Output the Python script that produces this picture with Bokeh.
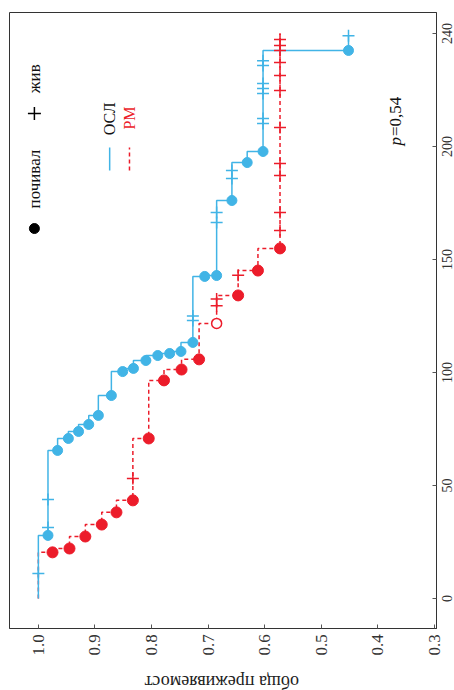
import math
from bokeh.plotting import figure
from bokeh.layouts import column, row
from bokeh.models import Range1d, FixedTicker
from bokeh.core.properties import value
from bokeh.embed import file_html
from bokeh.resources import INLINE

# ---------------- data ----------------
# ОСЛ (blue, solid): event times / survival after event
blue_event_t = [27.9, 65.5, 70.8, 73.9, 77.0, 81.0, 89.8, 100.4, 101.8, 105.3, 107.5,
                108.4, 109.3, 113.3, 142.5, 142.9, 176.1, 192.9, 197.8, 242.5]
blue_event_s = [0.983, 0.966, 0.947, 0.929, 0.911, 0.894, 0.871, 0.851, 0.832, 0.810, 0.789,
                0.768, 0.748, 0.727, 0.706, 0.685, 0.658, 0.631, 0.603, 0.452]
blue_cens_t = [11.0, 31.4, 43.8, 123.0, 125.0, 166.4, 170.8, 185.8, 189.4,
               210.2, 212.4, 223.5, 225.7, 227.9, 235.8, 238.0, 249.0]
blue_cens_s = [1.0, 0.983, 0.983, 0.727, 0.727, 0.685, 0.685, 0.658, 0.658,
               0.603, 0.603, 0.603, 0.603, 0.603, 0.603, 0.603, 0.452]
blue_end_t = 249.0

# РМ (red, dashed)
red_event_t = [20.4, 22.1, 27.4, 32.7, 38.1, 43.4, 70.8, 96.5, 101.3, 105.8,
               121.7, 134.1, 145.1, 154.9]
red_event_s = [0.975, 0.945, 0.917, 0.888, 0.862, 0.833, 0.805, 0.778, 0.747, 0.716,
               0.685, 0.647, 0.612, 0.573]
red_event_open = [False] * 10 + [True] + [False] * 3
red_cens_t = [53.1, 129.5, 132.5, 143.0, 162.8, 170.8, 187.2, 192.5, 208.4,
              224.8, 231.4, 237.2, 242.5, 244.7, 247.3]
red_cens_s = [0.833, 0.685, 0.685, 0.647, 0.573, 0.573, 0.573, 0.573, 0.573,
              0.573, 0.573, 0.573, 0.573, 0.573, 0.573]
red_end_t = 250.0

surv_ticks = [1.0, 0.9, 0.8, 0.7, 0.6, 0.5, 0.4, 0.3]
surv_labels = ["1.0", "0.9", "0.8", "0.7", "0.6", "0.5", "0.4", "0.3"]
time_ticks = [0, 50, 100, 150, 200, 250]
time_labels = ["0", "50", "100", "150", "200", "240"]

series_names = ["ОСЛ", "РМ"]
marker_names = ["почивал", "жив"]
y_title = "обща преживяемост"
p_text = "=0,54"

BLUE = "#41b4e6"
RED = "#ec1c2a"
FONT = "Liberation Serif"
ANG = math.pi / 2


def step_path(ev_t, ev_s, end_t):
    xs, ys = [1.0], [0.0]
    s = 1.0
    for t, sn in zip(ev_t, ev_s):
        xs += [s, sn]
        ys += [t, t]
        s = sn
    xs.append(s)
    ys.append(end_t)
    return xs, ys


surv_range = Range1d(1.051, 0.2965)
time_range = Range1d(-13.3, 259.3)

# ---------------- main panel ----------------
p = figure(width=438, height=630, x_range=surv_range, y_range=time_range,
           y_axis_location="right", output_backend="svg", toolbar_location=None,
           min_border_left=9, min_border_right=2, min_border_top=12, min_border_bottom=2)
p.grid.visible = False
p.outline_line_color = "#333333"
p.outline_line_width = 1
p.background_fill_color = "white"
p.border_fill_color = "white"

# bottom axis: inward ticks only (its labels sit in the strip below)
xa = p.xaxis[0]
xa.ticker = FixedTicker(ticks=surv_ticks)
xa.major_label_overrides = {t: "" for t in surv_ticks}
xa.major_label_orientation = math.pi / 2
xa.major_label_standoff = 0
xa.major_label_text_font_size = "1px"
xa.major_tick_in = 4
xa.major_tick_out = 0
xa.minor_tick_line_color = None
xa.axis_line_color = "#333333"
xa.major_tick_line_color = "#555555"

# right axis: inward ticks only (labels centred in the strip to the right)
ya = p.yaxis[0]
ya.ticker = FixedTicker(ticks=time_ticks)
ya.major_label_overrides = {t: "" for t in time_ticks}
ya.major_label_standoff = 0
ya.major_label_text_font_size = "1px"
ya.major_tick_in = 4
ya.major_tick_out = 0
ya.minor_tick_line_color = None
ya.axis_line_color = "#333333"
ya.major_tick_line_color = "#555555"

# curves
bx, by = step_path(blue_event_t, blue_event_s, blue_end_t)
rx, ry = step_path(red_event_t, red_event_s, red_end_t)
p.line(rx, ry, line_color=RED, line_width=1.5, line_dash="4 3")
p.line(bx, by, line_color=BLUE, line_width=1.5)

# censored (жив)
p.scatter(blue_cens_s, blue_cens_t, marker="cross", size=12, line_color=BLUE, line_width=1.5)
p.scatter(red_cens_s, red_cens_t, marker="cross", size=12, line_color=RED, line_width=1.5)

# events (почивал)
p.scatter(blue_event_s, blue_event_t, marker="circle", size=10, fill_color=BLUE, line_color=BLUE)
rs_f = [s for s, o in zip(red_event_s, red_event_open) if not o]
rt_f = [t for t, o in zip(red_event_t, red_event_open) if not o]
rs_o = [s for s, o in zip(red_event_s, red_event_open) if o]
rt_o = [t for t, o in zip(red_event_t, red_event_open) if o]
p.scatter(rs_f, rt_f, marker="circle", size=11, fill_color=RED, line_color=RED)
p.scatter(rs_o, rt_o, marker="circle", size=10, fill_color="white", line_color=RED, line_width=1.5)

# legend (drawn rotated like the rest)
p.scatter([1.007], [163.7], marker="circle", size=10, fill_color="black", line_color="black")
p.text([1.007], [185.6], text=[marker_names[0]], angle=ANG, text_align="center",
       text_baseline="middle", text_font=value(FONT), text_font_size="17px", text_color="#111111")
p.scatter([1.007], [214.6], marker="cross", size=13, line_color="black", line_width=1.5)
p.text([1.007], [230.0], text=[marker_names[1]], angle=ANG, text_align="center",
       text_baseline="middle", text_font=value(FONT), text_font_size="17px", text_color="#111111")

p.line([0.874, 0.874], [189.4, 199.6], line_color=BLUE, line_width=1.5)
p.text([0.874], [212.2], text=[series_names[0]], angle=ANG, text_align="center",
       text_baseline="middle", text_font=value(FONT), text_font_size="16px", text_color="#111111")
p.line([0.839, 0.839], [189.4, 199.6], line_color=RED, line_width=1.5, line_dash="4 3")
p.text([0.839], [212.6], text=[series_names[1]], angle=ANG, text_align="center",
       text_baseline="middle", text_font=value(FONT), text_font_size="16px", text_color=RED)

# p-value
p.text([0.369], [200.4], text=["p"], angle=ANG, text_align="left", text_baseline="middle",
       text_font=value(FONT), text_font_size="17px", text_font_style="italic", text_color="#111111")
p.text([0.369], [204.6], text=[p_text], angle=ANG, text_align="left", text_baseline="middle",
       text_font=value(FONT), text_font_size="17px", text_color="#111111")

# ---------------- right strip: time tick labels (centred on the ticks) ----------------
pr = figure(width=16, height=630, x_range=Range1d(0, 16), y_range=time_range,
            x_axis_location=None, y_axis_location=None,
            output_backend="svg", toolbar_location=None,
            min_border_left=0, min_border_right=0, min_border_top=12, min_border_bottom=2)
pr.grid.visible = False
pr.outline_line_color = None
pr.text([8.0] * len(time_ticks), time_ticks, text=time_labels, angle=ANG,
        text_align="center", text_baseline="middle", text_font=value(FONT),
        text_font_size="14px", text_color="#333333")

# ---------------- bottom strip: survival tick labels + axis title ----------------
pb = figure(width=454, height=60, x_range=surv_range, y_range=Range1d(0, 30),
            x_axis_location="above", y_axis_location=None,
            output_backend="svg", toolbar_location=None,
            min_border_left=9, min_border_right=18, min_border_top=30, min_border_bottom=0)
pb.grid.visible = False
pb.outline_line_color = None
xb = pb.xaxis[0]
xb.ticker = FixedTicker(ticks=surv_ticks)
xb.major_label_overrides = {t: l for t, l in zip(surv_ticks, surv_labels)}
xb.major_label_orientation = math.pi / 2
xb.major_label_standoff = 5
xb.major_label_text_font = FONT
xb.major_label_text_font_size = "17px"
xb.major_label_text_color = "#333333"
xb.major_tick_in = 0
xb.major_tick_out = 0
xb.major_tick_line_color = None
xb.minor_tick_line_color = None
xb.axis_line_color = None

pb.text([0.676], [9.0], text=[y_title], angle=math.pi, text_align="center",
        text_baseline="middle", text_font=value(FONT), text_font_size="18px",
        text_color="#222222")

layout = column(row(p, pr, spacing=0), pb, spacing=0)
open("out.html", "w").write(file_html(layout, INLINE))
